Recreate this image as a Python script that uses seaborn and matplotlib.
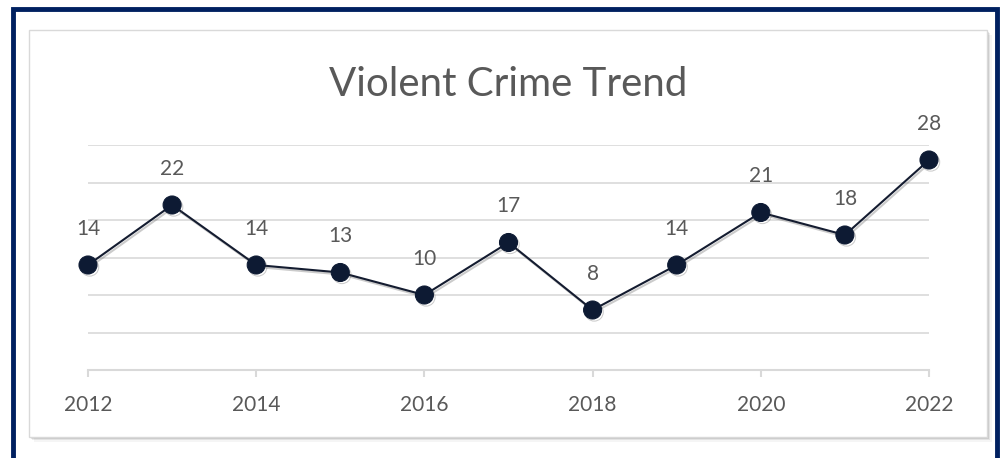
import matplotlib
matplotlib.use("Agg")
import matplotlib.pyplot as plt
import matplotlib.patheffects as pe
from matplotlib.patches import Rectangle
import pandas as pd
import seaborn as sns

years = [2012, 2013, 2014, 2015, 2016, 2017, 2018, 2019, 2020, 2021, 2022]
crimes = [14, 22, 14, 13, 10, 17, 8, 14, 21, 18, 28]
x_ticks = [2012, 2014, 2016, 2018, 2020, 2022]
title = "Violent Crime Trend"

W, H = 1005, 458


def main():
    sns.set_style("white")
    plt.rcParams['font.family'] = ['Lato', 'DejaVu Sans']

    df = pd.DataFrame({"year": years, "crimes": crimes})

    fig = plt.figure(figsize=(W / 100, H / 100), dpi=100)
    fig.patch.set_facecolor("white")

    # navy frame around the whole picture
    fig.patches.append(Rectangle((13 / W, -0.05), (997 - 13) / W, (H - 9) / H + 0.05,
                                 transform=fig.transFigure, fill=False,
                                 edgecolor="#002060", linewidth=3.5, zorder=-3))
    # chart panel with a soft shadow
    for i, a in enumerate([0.10, 0.07, 0.04]):
        off = (i + 1) * 1.5
        fig.patches.append(Rectangle(((29 + off) / W, (H - 437 - off) / H), 958 / W, 407 / H,
                                     transform=fig.transFigure, facecolor="black",
                                     edgecolor="none", alpha=a, zorder=-2))
    fig.patches.append(Rectangle((29 / W, (H - 437) / H), 958 / W, 407 / H,
                                 transform=fig.transFigure, facecolor="white",
                                 edgecolor="#d9d9d9", linewidth=1, zorder=-1))

    ax = fig.add_axes([88 / W, (H - 370) / H, 841 / W, 225 / H])
    ax.set_facecolor("none")

    sns.lineplot(data=df, x="year", y="crimes", ax=ax, color="#141c30",
                 linewidth=1.5, marker="o", markersize=13,
                 markerfacecolor="#0d1a33", markeredgecolor="#0d1a33",
                 path_effects=[pe.SimpleLineShadow(offset=(1.2, -1.5), shadow_color="#555555",
                                                   alpha=0.3), pe.Normal()],
                 clip_on=False)

    for x, y in zip(years, crimes):
        ax.annotate(str(y), (x, y), xytext=(0, 26), textcoords="offset points",
                    ha="center", va="center", fontsize=15, color="#595959")

    ax.set_xlim(2012, 2022)
    ax.set_ylim(0, 30)
    ax.set_yticks([5, 10, 15, 20, 25, 30])
    ax.set_yticklabels([])
    ax.yaxis.grid(True, color="#d9d9d9", linewidth=1.2)
    ax.set_axisbelow(True)
    ax.set_xticks(x_ticks)
    ax.set_xticklabels([str(t) for t in x_ticks], fontsize=15, color="#595959")
    ax.tick_params(axis="x", bottom=True, length=5, width=1.5, color="#d9d9d9",
                   pad=13, direction="out")
    ax.tick_params(axis="y", length=0)
    for s in ["top", "right", "left"]:
        ax.spines[s].set_visible(False)
    ax.spines["bottom"].set_color("#d9d9d9")
    ax.spines["bottom"].set_linewidth(1.5)
    ax.set_xlabel("")
    ax.set_ylabel("")

    fig.text(508 / W, 1 - 84 / H, title, ha="center", va="center",
             fontsize=29, color="#595959")

    fig.savefig("out.png", dpi=100)


if __name__ == "__main__":
    main()
